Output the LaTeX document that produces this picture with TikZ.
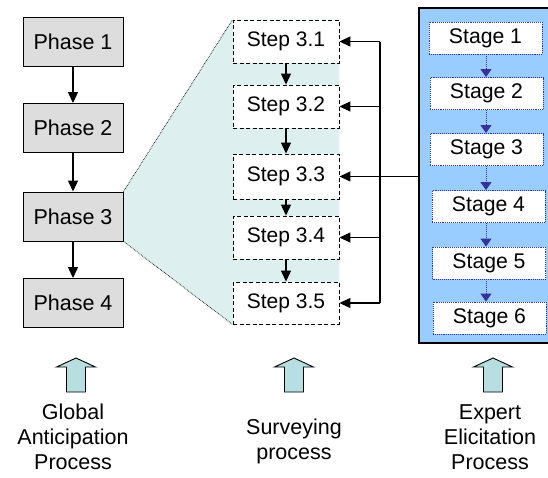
\documentclass[tikz,border=0pt]{standalone}
\usepackage{fontspec}
\setmainfont{Liberation Sans}
\usetikzlibrary{arrows.meta,positioning,backgrounds}

\definecolor{phasegray}{HTML}{DDDDDD}
\definecolor{zoomteal}{HTML}{DDEFEF}
\definecolor{panelblue}{HTML}{99CCFF}
\definecolor{arrowteal}{HTML}{B7DEE0}
\definecolor{stagenavy}{HTML}{333399}

\tikzset{
  phase/.style={draw, line width=0.9pt, fill=phasegray, minimum width=100pt, minimum height=49pt, inner sep=0pt, font=\fontsize{21.5}{25}\selectfont},
  stepbox/.style={draw, line width=0.9pt, dashed, dash pattern=on 4pt off 2.5pt, fill=white, minimum width=106pt, minimum height=43pt, inner sep=0pt, font=\fontsize{21}{25}\selectfont},
  stagebox/.style={draw=stagenavy, densely dotted, line width=0.9pt, fill=white, minimum width=113pt, minimum height=32pt, inner sep=0pt, font=\fontsize{21.2}{25}\selectfont},
  conn/.style={line width=1.1pt, -{Triangle[length=11pt,width=10pt]}},
  stageconn/.style={draw=stagenavy, densely dotted, line width=1pt, -{Triangle[length=8pt,width=11pt,fill=stagenavy]}},
  fatarrow/.style={draw, fill=arrowteal, line width=0.9pt, line join=miter},
  caption/.style={align=center, font=\fontsize{21.5}{25}\selectfont}
}

\begin{document}
\begin{tikzpicture}[x=1pt,y=-1pt]
  \useasboundingbox (0,0) rectangle (548,477);

  %blue panel
  \node[draw, line width=1.4pt, fill=panelblue, minimum width=141pt, minimum height=335pt, inner sep=0pt] (expert) at (489.5,175.5) {};

  %phases
  \node[phase] (p1) at (73,41.5) {Phase 1};
  \node[phase] (p2) at (73,128) {Phase 2};
  \node[phase] (p3) at (73,216.5) {Phase 3};
  \node[phase] (p4) at (73,303) {Phase 4};

  %steps
  \node[stepbox] (s31) at (286,41.5) {Step 3.1};
  \node[stepbox] (s32) at (286,106.5) {Step 3.2};
  \node[stepbox, minimum height=45pt] (s33) at (286,176.5) {Step 3.3};
  \node[stepbox] (s34) at (286,237.5) {Step 3.4};
  \node[stepbox, minimum height=42pt] (s35) at (286,303) {Step 3.5};

  %zoom wedge behind the steps
  \begin{scope}[on background layer]
    \fill[zoomteal] (p3.north east) -- (s31.north west) -- (s31.north east)
      -- (s35.south east) -- (s35.south west) -- (p3.south east) -- cycle;
  \end{scope}
  \draw[densely dotted, line width=0.7pt] (p3.north east) -- (s31.north west);
  \draw[densely dotted, line width=0.7pt] (p3.south east) -- (s35.south west);

  %stages
  \node[stagebox] (g1) at (485.5,38) {Stage 1};
  \node[stagebox] (g2) at (486.5,93.5) {Stage 2};
  \node[stagebox] (g3) at (486.5,149.5) {Stage 3};
  \node[stagebox] (g4) at (488.5,206.5) {Stage 4};
  \node[stagebox] (g5) at (489,263) {Stage 5};
  \node[stagebox] (g6) at (489.5,318) {Stage 6};

  %arrows
  \draw[conn] (p1) -- (p2);
  \draw[conn] (p2) -- (p3);
  \draw[conn] (p3) -- (p4);
  \draw[conn] (s31) -- (s32);
  \draw[conn] (s32) -- (s33);
  \draw[conn] (s33) -- (s34);
  \draw[conn] (s34) -- (s35);
  \coordinate (sx) at (486,0);
  \foreach \a/\b in {g1/g2,g2/g3,g3/g4,g4/g5,g5/g6}
    \draw[stageconn] (\a.south -| sx) -- (\b.north -| sx);

  %bus to the steps
  \coordinate (bus) at (380,0);
  \draw[line width=1.1pt] (s31.east -| bus) -- (s35.east -| bus);
  \foreach \s in {s31,s32,s34,s35}
    \draw[conn] (\s.east -| bus) -- (\s.east);
  \draw[line width=1.8pt] (expert.west |- s33) -- (s33.east -| bus);
  \draw[conn] (s33.east -| bus) -- (s33.east);

  %fat arrows and captions
  \foreach \x in {76,294,493}
    \draw[fatarrow] (\x-9.5,392) -- (\x-9.5,367) -- (\x-19.5,367) -- (\x,358)
      -- (\x+19.5,367) -- (\x+9.5,367) -- (\x+9.5,392) -- cycle;
  \node[caption] (gap) at (73,437) {Global\\Anticipation\\Process};
  \node[caption] (sp) at (294,441) {Surveying\\process};
  \node[caption] (eep) at (490,437) {Expert\\Elicitation\\Process};
\end{tikzpicture}
\end{document}
